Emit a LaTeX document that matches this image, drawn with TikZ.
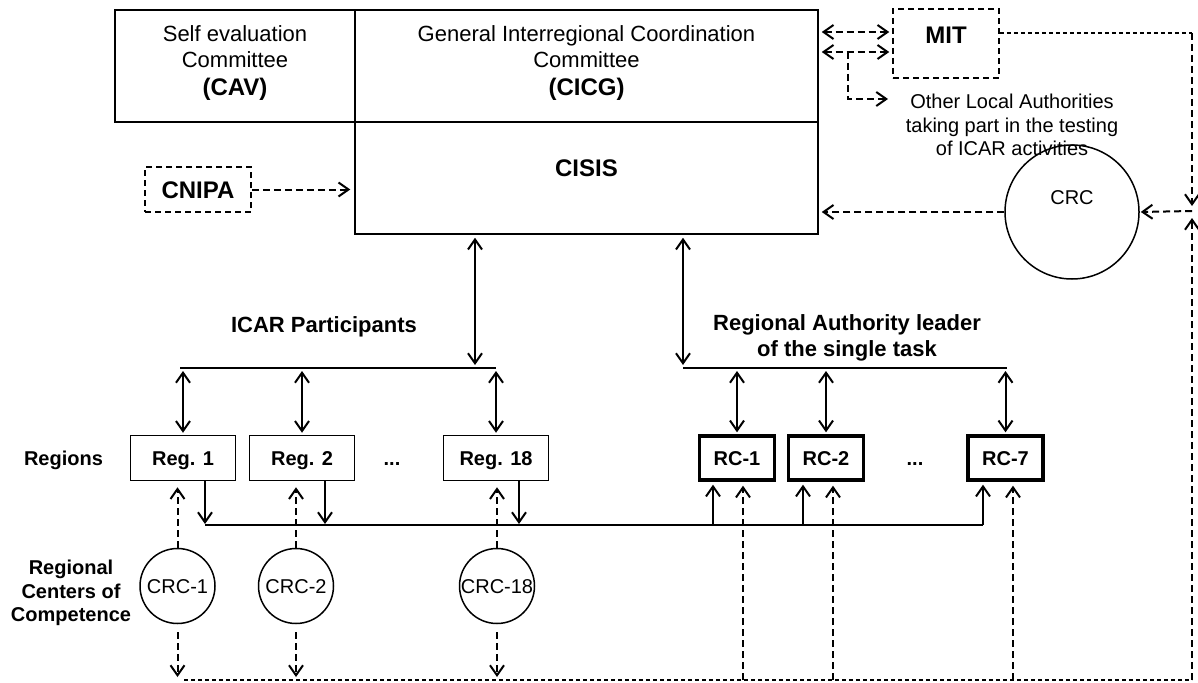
\documentclass[tikz,border=0pt]{standalone}
\usepackage{fontspec}
\setmainfont{Liberation Sans}
\usetikzlibrary{arrows.meta}
\newcommand\myfa{\fontsize{20}{23.5}\selectfont}
\newcommand\myfb{\fontsize{22}{26}\selectfont}
\newcommand\myfc{\fontsize{24}{27}\selectfont}
\begin{document}
\begin{tikzpicture}[x=1pt,y=-1pt,
  >={Straight Barb[length=10pt,width=14pt]},
  frame/.style={draw, line width=1.5pt, inner sep=0pt},
  regframe/.style={draw, line width=1.5pt, inner sep=0pt, minimum width=105pt, minimum height=45pt},
  rcframe/.style={draw, line width=3.4pt, inner sep=0pt, minimum width=75pt, minimum height=44pt},
  dframe/.style={draw, line width=1.5pt, dash pattern=on 6pt off 4pt, inner sep=0pt},
  ring/.style={draw, circle, line width=1.5pt, inner sep=0pt},
  sol/.style={line width=2pt},
  dsh/.style={line width=2pt, dash pattern=on 7pt off 4pt},
  fdsh/.style={line width=1.3pt, dash pattern=on 4pt off 3pt},
  hbar/.style={line width=1.6pt},
  t20/.style={font=\myfa, text height=14.3pt, text depth=0pt},
  b20/.style={font=\myfa\bfseries, text height=14.3pt, text depth=0pt},
  b22/.style={font=\myfb\bfseries, text height=15.8pt, text depth=0pt},
  b24/.style={font=\myfc\bfseries, text height=17.2pt, text depth=0pt},
]
\useasboundingbox (0,0) rectangle (1198,682);

% top boxes
\node[frame, minimum width=240, minimum height=112] (cav) at (235,66) {};
\node[frame, minimum width=463, minimum height=112] (cicg) at (586.5,66) {};
\node[frame, minimum width=463, minimum height=112] (cisis) at (586.5,178) {};
\node[align=center, font=\myfb] (cavt) at (235,63) {Self evaluation\\Committee\\[1.5pt]{\myfc\bfseries (CAV)}};
\node[align=center, font=\myfb] (cicgt) at (586.5,63) {General Interregional Coordination\\Committee\\[1.5pt]{\myfc\bfseries (CICG)}};
\node[b24] (cisist) at (586.5,168) {CISIS};

% CNIPA
\node[dframe, b24, minimum width=106, minimum height=45] (cnipa) at (198,189.5) {CNIPA};
\draw[dsh,->,shorten >=4pt] (cnipa.east) -- (cnipa.east -| cisis.west);

% MIT
\node[dframe, minimum width=106, minimum height=69] (mit) at (946,43.5) {};
\node[b24] (mitt) at (946,35) {MIT};
\draw[dsh,<->,shorten <=3pt,shorten >=3pt] (cicg.east |- 0,32) -- (mit.west |- 0,32);
\draw[dsh,<->,shorten <=3pt,shorten >=3pt] (cicg.east |- 0,52) -- (mit.west |- 0,52);
\coordinate (br) at (848,52);
\coordinate (othin) at (888,99);
\draw[dsh,->] (br) |- (othin);
\node[align=center, font=\myfa] (oth) at (1012,125) {Other Local Authorities\\taking part in the testing\\of ICAR activities};

% CRC top right
\node[ring, minimum size=134] (crc) at (1072,212) {};
\node[t20] (crct) at (1072,197) {CRC};
\coordinate (rtop) at (1192,33);
\coordinate (rmid) at (1192,211);
\coordinate (rbot) at (1192,680);
\draw[fdsh] (mit.east |- rtop) -- (rtop);
\draw[dsh,->,shorten >=5pt] (rtop) -- (rmid);
\draw[dsh,->,shorten >=7pt] (rbot) -- (rmid);
\draw[dsh,->,shorten >=1pt] (rmid) -- (crc.east);
\draw[dsh,->,shorten >=3pt] (crc.west) -- (crc.west -| cisis.east);

% bars
\coordinate (pl1) at (180,368);
\coordinate (pl2) at (496,368);
\coordinate (pr1) at (683,368);
\coordinate (pr2) at (1007,368);
\draw[hbar] (pl1) -- (pl2);
\draw[hbar] (pr1) -- (pr2);
\coordinate (cl) at (475,368);
\draw[sol,<->,shorten <=3pt,shorten >=3pt] (cisis.south -| cl) -- (cl);
\draw[sol,<->,shorten <=3pt,shorten >=3pt] (cisis.south -| pr1) -- (pr1);

\node[b22] (icar) at (324,325) {ICAR Participants};
\node[align=center, font=\myfb\bfseries] (ral) at (847,338) {Regional Authority leader\\of the single task};

% region boxes
\node[b20] (regions) at (63.5,458) {Regions};
\node[regframe, b20] (reg1) at (183,458) {Reg. 1};
\node[regframe, b20] (reg2) at (302,458) {Reg. 2};
\node[b20] (dots1) at (392,458) {...};
\node[regframe, b20] (reg18) at (496,458) {Reg. 18};
\node[rcframe, b20] (rc1) at (737,458) {RC-1};
\node[rcframe, b20] (rc2) at (826,458) {RC-2};
\node[b20] (dots2) at (915,458) {...};
\node[rcframe, b20] (rc7) at (1005.5,458) {RC-7};

\foreach \n/\b in {reg1/pl1,reg2/pl1,reg18/pl1,rc1/pr1,rc2/pr1,rc7/pr1}
  \draw[sol,<->,shorten <=3pt,shorten >=2pt] (\n.north |- \b) -- (\n.north);

% lower line
\coordinate (ll1) at (205,525);
\coordinate (ll2) at (983,525);
\draw[hbar] (ll1) -- (ll2);
\coordinate (d2) at (325,525);
\coordinate (d18) at (519,525);
\draw[sol,->,shorten >=1pt] (reg1.south -| ll1) -- (ll1);
\draw[sol,->,shorten >=1pt] (reg2.south -| d2) -- (d2);
\draw[sol,->,shorten >=1pt] (reg18.south -| d18) -- (d18);
\coordinate (u1) at (713,525);
\coordinate (u2) at (803,525);
\draw[sol,->,shorten >=3pt] (u1) -- (u1 |- rc1.south);
\draw[sol,->,shorten >=3pt] (u2) -- (u2 |- rc2.south);
\draw[sol,->,shorten >=3pt] (ll2) -- (ll2 |- rc7.south);

% CRC circles
\node[align=center, font=\myfa\bfseries] (rcc) at (71,593) {Regional\\Centers of\\Competence};
\node[ring, minimum size=75, t20] (crc1) at (177.5,586) {CRC-1};
\node[ring, minimum size=75, t20] (crc2) at (296,586) {CRC-2};
\node[ring, minimum size=75, t20] (crc18) at (497,586) {CRC-18};
\coordinate (bl) at (184,680);
\draw[fdsh] (bl) -- (rbot);
\foreach \c/\r in {crc1/reg1,crc2/reg2,crc18/reg18} {
  \draw[dsh,->,shorten >=6pt] (\c.north) -- (\c.north |- \r.south);
  \draw[dsh,->,shorten <=8pt,shorten >=3pt] (\c.south) -- (\c.south |- bl);
}
\coordinate (v1) at (743,680);
\coordinate (v2) at (833,680);
\coordinate (v7) at (1013,680);
\draw[dsh,->,shorten >=4pt] (v1) -- (v1 |- rc1.south);
\draw[dsh,->,shorten >=4pt] (v2) -- (v2 |- rc2.south);
\draw[dsh,->,shorten >=4pt] (v7) -- (v7 |- rc7.south);
\end{tikzpicture}
\end{document}
